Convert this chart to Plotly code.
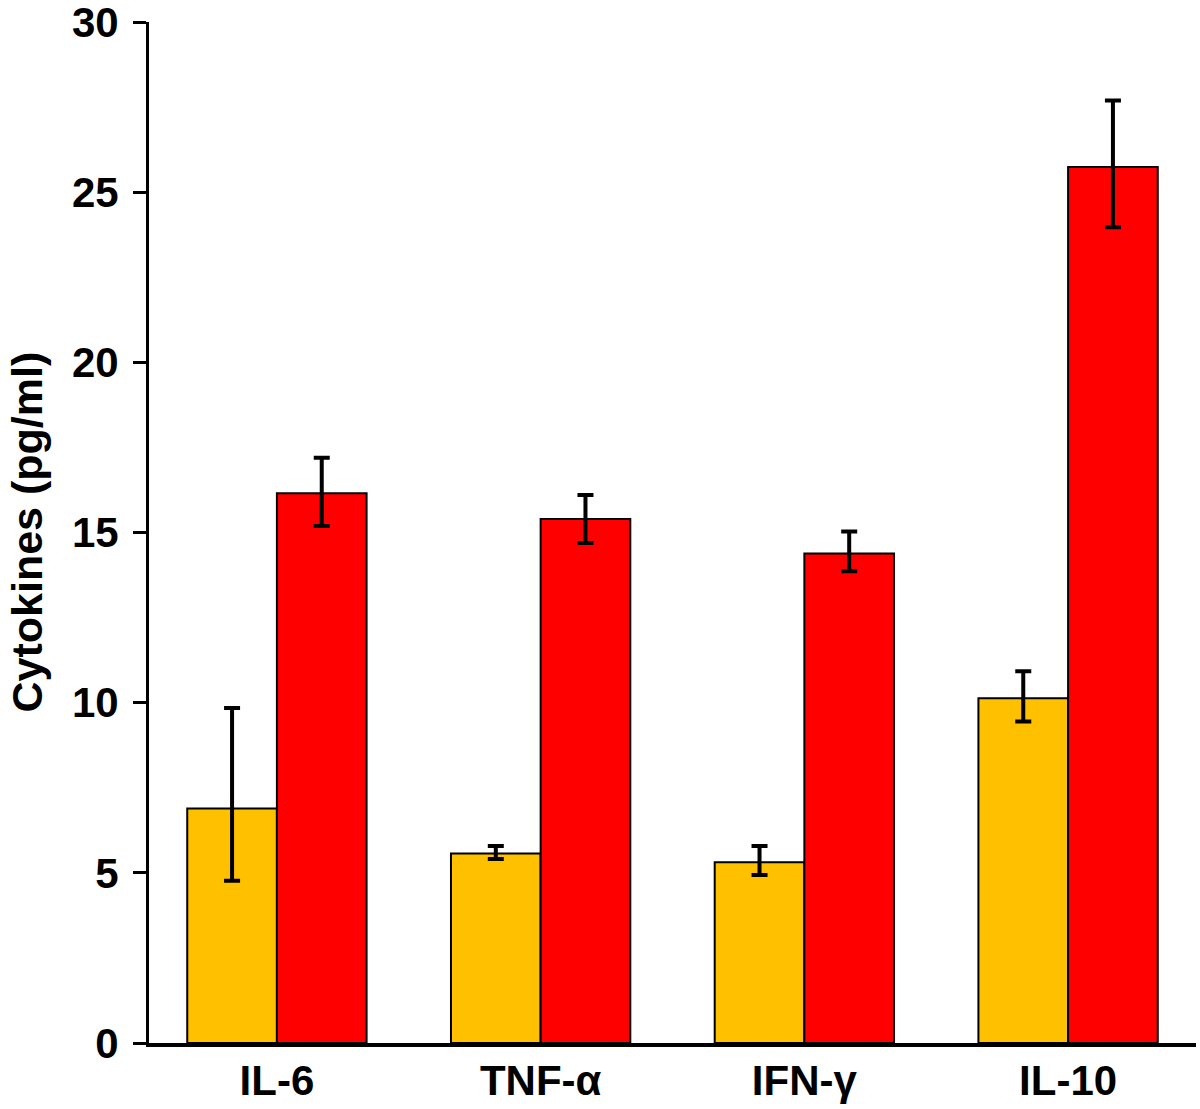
import plotly.graph_objects as go

categories = ["IL-6", "TNF-α", "IFN-γ", "IL-10"]
group1 = [6.89, 5.57, 5.31, 10.13]
group1_err_plus = [2.95, 0.22, 0.48, 0.79]
group1_err_minus = [2.12, 0.16, 0.37, 0.68]
group2 = [16.15, 15.40, 14.38, 25.74]
group2_err_plus = [1.05, 0.70, 0.65, 1.95]
group2_err_minus = [0.96, 0.71, 0.52, 1.77]
y_ticks = [0, 5, 10, 15, 20, 25, 30]

FONT = "Liberation Sans, Arial, sans-serif"

fig = go.Figure()
for vals, ep, em, color in [
    (group1, group1_err_plus, group1_err_minus, "#FFC000"),
    (group2, group2_err_plus, group2_err_minus, "#FF0000"),
]:
    fig.add_trace(go.Bar(
        x=categories, y=vals,
        marker=dict(color=color, line=dict(color="black", width=2)),
        error_y=dict(type="data", array=ep, arrayminus=em, symmetric=False,
                     color="black", thickness=4, width=8),
        showlegend=False,
    ))

fig.update_layout(
    width=1200, height=1109,
    margin=dict(l=149, r=4, t=22, b=66),
    plot_bgcolor="white", paper_bgcolor="white",
    barmode="group", bargap=0.32, bargroupgap=0,
    font=dict(family=FONT, color="black"),
    xaxis=dict(
        range=[-0.485, 3.485], automargin=False,
        showline=True, linecolor="black", linewidth=4,
        ticks="", showgrid=False, zeroline=False,
        ticklabelstandoff=-2,
        tickfont=dict(family=FONT, size=42, color="black", weight="bold"),
    ),
    yaxis=dict(
        range=[0, 30], tickvals=y_ticks, automargin=False,
        showline=True, linecolor="black", linewidth=3,
        ticks="outside", ticklen=13, tickwidth=3, tickcolor="black",
        showgrid=False, zeroline=False,
        ticklabeloverflow="allow", ticklabelstandoff=6,
        tickfont=dict(family=FONT, size=42, color="black", weight="bold"),
    ),
    annotations=[dict(
        text="Cytokines (pg/ml)", textangle=-90,
        xref="paper", yref="paper", x=0, y=0.5,
        xanchor="center", yanchor="middle", xshift=-123, showarrow=False,
        font=dict(family=FONT, size=43, color="black", weight="bold"),
    )],
)

fig.write_html(
    "out.html",
    config={"displayModeBar": False},
    post_script="document.body.style.margin='0';document.body.style.overflow='hidden';",
)
